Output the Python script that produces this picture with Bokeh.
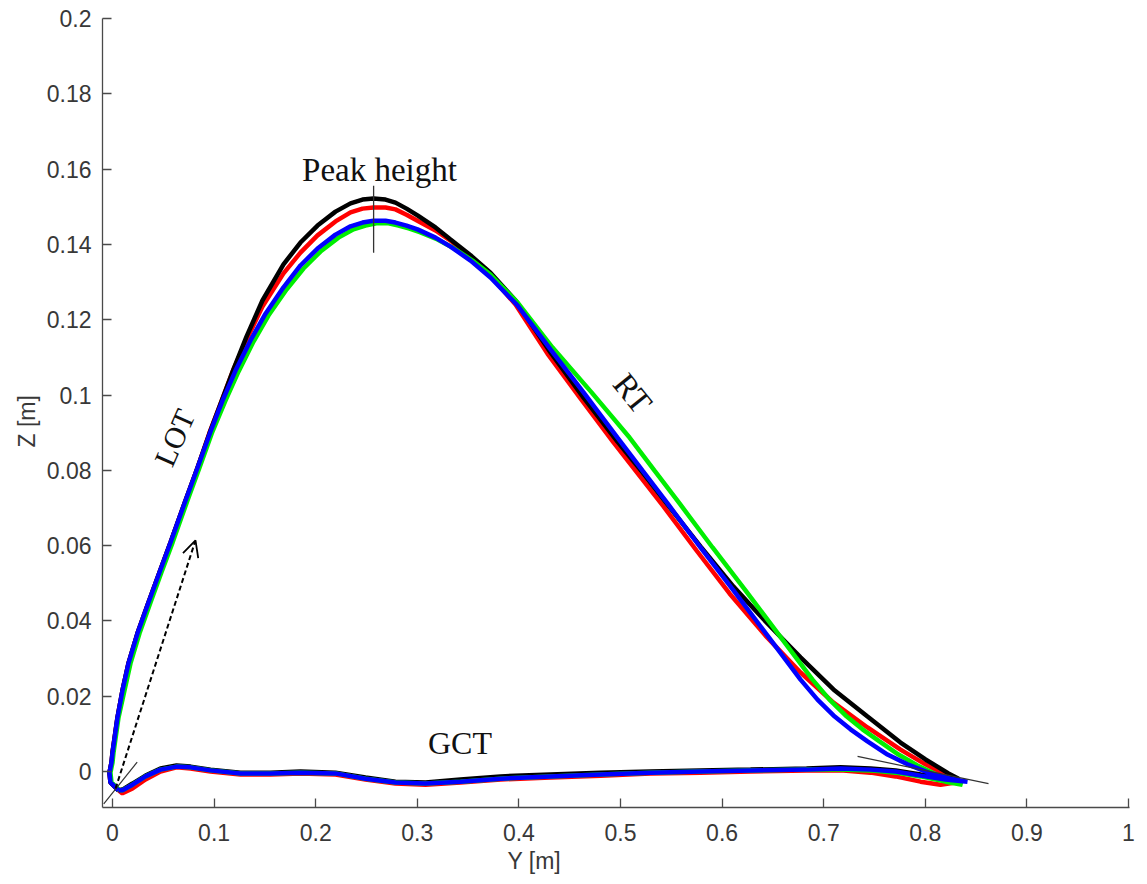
from bokeh.plotting import figure
from bokeh.models import Range1d, FixedTicker, Label, Arrow, OpenHead, Title
from bokeh.embed import file_html
from bokeh.resources import INLINE

# ---------------- data: Y [m] / Z [m] ----------------
# swing phase (LOT -> peak -> RT), then ground contact (GCT) back to start
blue_swing_y = [0.0059, -0.0020, -0.0030, -0.0010, 0.0000, 0.0049, 0.0098, 0.0157, 0.0246, 0.0354,
                0.0463, 0.0571, 0.0719, 0.0837, 0.0965, 0.1083, 0.1211, 0.1358, 0.1506, 0.1683,
                0.1850, 0.2018, 0.2195, 0.2343, 0.2461, 0.2569, 0.2687, 0.2785, 0.2894, 0.3002,
                0.3179, 0.3327, 0.3524, 0.3720, 0.3986, 0.4311, 0.4636, 0.4970, 0.5217, 0.5463,
                0.5787, 0.6112, 0.6447, 0.6772, 0.6939, 0.7096, 0.7264, 0.7431, 0.7628, 0.7825,
                0.8051, 0.8248, 0.8415]
blue_swing_z = [-0.0050, -0.0029, -0.0003, 0.0024, 0.0050, 0.0143, 0.0215, 0.0287, 0.0367, 0.0449,
                0.0529, 0.0608, 0.0720, 0.0807, 0.0903, 0.0985, 0.1065, 0.1145, 0.1216, 0.1286,
                0.1344, 0.1389, 0.1426, 0.1448, 0.1458, 0.1463, 0.1463, 0.1458, 0.1450, 0.1440,
                0.1418, 0.1394, 0.1357, 0.1312, 0.1238, 0.1121, 0.1007, 0.0887, 0.0799, 0.0712,
                0.0595, 0.0481, 0.0361, 0.0244, 0.0191, 0.0149, 0.0112, 0.0080, 0.0045, 0.0019,
                -0.0005, -0.0019, -0.0027]
blue_gct_y = [0.8199, 0.7953, 0.7707, 0.7461, 0.7165, 0.6831, 0.6280, 0.5787, 0.5295, 0.4803,
              0.4311, 0.3819, 0.3425, 0.3081, 0.2785, 0.2490, 0.2195, 0.1850, 0.1555, 0.1260,
              0.0965, 0.0768, 0.0630, 0.0472, 0.0325, 0.0197, 0.0098, 0.0059]
blue_gct_z = [-0.0021, -0.0011, 0.0000, 0.0005, 0.0008, 0.0005, 0.0003, 0.0000, -0.0003, -0.0008,
              -0.0013, -0.0019, -0.0027, -0.0032, -0.0029, -0.0019, -0.0005, -0.0003, -0.0005, -0.0005,
              0.0003, 0.0011, 0.0013, 0.0005, -0.0013, -0.0035, -0.0050, -0.0050]

black_swing_y = [0.0059, -0.0020, -0.0030, -0.0010, 0.0000, 0.0049, 0.0098, 0.0157, 0.0246, 0.0354,
                 0.0463, 0.0571, 0.0719, 0.0837, 0.0955, 0.1073, 0.1191, 0.1319, 0.1476, 0.1683,
                 0.1850, 0.2018, 0.2195, 0.2343, 0.2461, 0.2569, 0.2687, 0.2785, 0.2894, 0.3002,
                 0.3179, 0.3327, 0.3524, 0.3720, 0.3967, 0.4311, 0.4636, 0.4970, 0.5217, 0.5463,
                 0.5787, 0.6112, 0.6447, 0.6772, 0.7096, 0.7431, 0.7756, 0.8002, 0.8228, 0.8327]
black_swing_z = [-0.0050, -0.0029, -0.0003, 0.0024, 0.0050, 0.0143, 0.0215, 0.0287, 0.0367, 0.0449,
                 0.0529, 0.0608, 0.0720, 0.0807, 0.0898, 0.0983, 0.1068, 0.1155, 0.1251, 0.1347,
                 0.1405, 0.1450, 0.1487, 0.1509, 0.1519, 0.1522, 0.1519, 0.1511, 0.1495, 0.1477,
                 0.1445, 0.1413, 0.1371, 0.1325, 0.1251, 0.1113, 0.0993, 0.0876, 0.0794, 0.0709,
                 0.0598, 0.0491, 0.0393, 0.0303, 0.0218, 0.0146, 0.0077, 0.0032, -0.0005, -0.0019]
black_gct_y = [0.8199, 0.7953, 0.7707, 0.7461, 0.7165, 0.6831, 0.6280, 0.5787, 0.5295, 0.4803,
               0.4311, 0.3819, 0.3425, 0.3081, 0.2785, 0.2490, 0.2195, 0.1850, 0.1555, 0.1260,
               0.0965, 0.0768, 0.0630, 0.0472, 0.0325, 0.0197, 0.0098, 0.0059]
black_gct_z = [-0.0016, -0.0008, 0.0003, 0.0008, 0.0011, 0.0008, 0.0005, 0.0003, 0.0000, -0.0003,
               -0.0008, -0.0013, -0.0021, -0.0029, -0.0027, -0.0016, -0.0003, 0.0000, -0.0003, -0.0003,
               0.0005, 0.0013, 0.0016, 0.0008, -0.0011, -0.0032, -0.0048, -0.0050]

red_swing_y = [0.0059, -0.0020, -0.0030, -0.0010, 0.0000, 0.0049, 0.0098, 0.0157, 0.0246, 0.0354,
               0.0463, 0.0571, 0.0719, 0.0837, 0.0955, 0.1073, 0.1191, 0.1319, 0.1476, 0.1683,
               0.1850, 0.2018, 0.2195, 0.2343, 0.2461, 0.2569, 0.2687, 0.2785, 0.2894, 0.3002,
               0.3179, 0.3327, 0.3524, 0.3720, 0.3967, 0.4281, 0.4606, 0.4931, 0.5177, 0.5423,
               0.5748, 0.6073, 0.6427, 0.6772, 0.7096, 0.7431, 0.7756, 0.8002, 0.8219, 0.8297]
red_swing_z = [-0.0050, -0.0029, -0.0003, 0.0024, 0.0050, 0.0143, 0.0215, 0.0287, 0.0367, 0.0449,
               0.0529, 0.0608, 0.0720, 0.0807, 0.0900, 0.0983, 0.1068, 0.1147, 0.1235, 0.1323,
               0.1378, 0.1424, 0.1461, 0.1485, 0.1495, 0.1498, 0.1498, 0.1493, 0.1479, 0.1463,
               0.1437, 0.1410, 0.1365, 0.1317, 0.1240, 0.1110, 0.0991, 0.0874, 0.0789, 0.0704,
               0.0587, 0.0473, 0.0361, 0.0263, 0.0183, 0.0117, 0.0058, 0.0019, -0.0011, -0.0029]
red_gct_y = [0.8150, 0.7953, 0.7707, 0.7461, 0.7165, 0.6831, 0.6280, 0.5787, 0.5295, 0.4803,
             0.4311, 0.3819, 0.3425, 0.3081, 0.2785, 0.2490, 0.2195, 0.1850, 0.1555, 0.1260,
             0.0965, 0.0768, 0.0630, 0.0472, 0.0325, 0.0197, 0.0098, 0.0059]
red_gct_z = [-0.0035, -0.0027, -0.0013, -0.0003, 0.0003, 0.0003, 0.0000, -0.0003, -0.0005, -0.0011,
             -0.0016, -0.0021, -0.0029, -0.0035, -0.0032, -0.0021, -0.0008, -0.0005, -0.0008, -0.0008,
             0.0000, 0.0008, 0.0011, 0.0000, -0.0021, -0.0045, -0.0058, -0.0050]

green_swing_y = [0.0069, -0.0010, -0.0020, 0.0000, 0.0010, 0.0059, 0.0118, 0.0177, 0.0266, 0.0374,
                 0.0482, 0.0591, 0.0738, 0.0856, 0.0984, 0.1112, 0.1240, 0.1388, 0.1535, 0.1713,
                 0.1880, 0.2047, 0.2224, 0.2372, 0.2490, 0.2598, 0.2717, 0.2815, 0.2923, 0.3031,
                 0.3199, 0.3346, 0.3543, 0.3720, 0.3986, 0.4331, 0.4715, 0.5089, 0.5335, 0.5581,
                 0.5906, 0.6230, 0.6565, 0.6890, 0.7057, 0.7215, 0.7382, 0.7549, 0.7736, 0.7923,
                 0.8130, 0.8297, 0.8366]
green_swing_z = [-0.0050, -0.0029, -0.0003, 0.0024, 0.0050, 0.0143, 0.0215, 0.0287, 0.0367, 0.0449,
                 0.0529, 0.0608, 0.0720, 0.0807, 0.0903, 0.0985, 0.1062, 0.1142, 0.1211, 0.1280,
                 0.1336, 0.1381, 0.1418, 0.1440, 0.1450, 0.1456, 0.1456, 0.1450, 0.1442, 0.1432,
                 0.1413, 0.1392, 0.1357, 0.1320, 0.1246, 0.1126, 0.1007, 0.0887, 0.0799, 0.0712,
                 0.0595, 0.0481, 0.0361, 0.0244, 0.0191, 0.0149, 0.0112, 0.0080, 0.0045, 0.0016,
                 -0.0011, -0.0027, -0.0035]
green_gct_y = [0.8199, 0.7953, 0.7707, 0.7461, 0.7165, 0.6831, 0.6280, 0.5787, 0.5295, 0.4803,
               0.4311, 0.3819, 0.3425, 0.3081, 0.2785, 0.2490, 0.2195, 0.1850, 0.1555, 0.1260,
               0.0965, 0.0768, 0.0630, 0.0472, 0.0325, 0.0197, 0.0098, 0.0069]
green_gct_z = [-0.0027, -0.0013, -0.0003, 0.0003, 0.0005, 0.0005, 0.0003, 0.0000, -0.0003, -0.0008,
               -0.0013, -0.0019, -0.0027, -0.0032, -0.0029, -0.0019, -0.0005, -0.0003, -0.0005, -0.0005,
               0.0003, 0.0011, 0.0013, 0.0005, -0.0013, -0.0035, -0.0050, -0.0050]

# annotation geometry (data units)
peak_line_y = [0.257, 0.257]
peak_line_z = [0.1378, 0.1556]
toe_line_y = [-0.0086, 0.0243]
toe_line_z = [-0.0086, 0.0025]
heel_line_y = [0.7333, 0.8622]
heel_line_z = [0.0040, -0.0032]
arrow_start = (0.0030, -0.0045)
arrow_end = (0.0817, 0.0614)

x_ticks = [0, 0.1, 0.2, 0.3, 0.4, 0.5, 0.6, 0.7, 0.8, 0.9, 1]
x_tick_labels = ["0", "0.1", "0.2", "0.3", "0.4", "0.5", "0.6", "0.7", "0.8", "0.9", "1"]
y_ticks = [0, 0.02, 0.04, 0.06, 0.08, 0.1, 0.12, 0.14, 0.16, 0.18, 0.2]
y_tick_labels = ["0", "0.02", "0.04", "0.06", "0.08", "0.1", "0.12", "0.14", "0.16", "0.18", "0.2"]

# ---------------- figure ----------------
p = figure(width=1143, height=882, output_backend="svg", toolbar_location=None,
           x_range=Range1d(-0.00984, 1.00098), y_range=Range1d(-0.00956, 0.2),
           min_border_left=102, min_border_right=14, min_border_top=18, min_border_bottom=75)
p.outline_line_color = None
p.grid.visible = False
p.background_fill_color = "white"
p.border_fill_color = "white"

for ax, ticks, labels in ((p.xaxis[0], x_ticks, x_tick_labels), (p.yaxis[0], y_ticks, y_tick_labels)):
    ax.ticker = FixedTicker(ticks=ticks)
    ax.major_label_overrides = {t: l for t, l in zip(ticks, labels)}
    ax.minor_tick_line_color = None
    ax.major_tick_in = 9
    ax.major_tick_out = 0
    ax.axis_line_color = "#4a4a4a"
    ax.axis_line_width = 1.3
    ax.major_tick_line_color = "#4a4a4a"
    ax.major_tick_line_width = 1.3
    ax.major_label_text_font = "Liberation Sans"
    ax.major_label_text_font_size = "23px"
    ax.major_label_text_color = "#383838"
p.xaxis.major_label_standoff = 16
p.yaxis.major_label_standoff = 11

# axis titles (as side titles so they can sit off-centre like the original)
p.add_layout(Title(text="Y [m]", align="left", offset=405, standoff=6, vertical_align="middle",
                   text_font="Liberation Sans", text_font_size="23px",
                   text_font_style="normal", text_color="#383838"), "below")
p.add_layout(Title(text="Z [m]", align="left", offset=360, standoff=6, vertical_align="middle",
                   text_font="Liberation Sans", text_font_size="23px",
                   text_font_style="normal", text_color="#383838"), "left")

# curves
lw = 4.5
p.line(red_swing_y + red_gct_y, red_swing_z + red_gct_z, line_color="#ff0000", line_width=lw)
p.line(black_swing_y + black_gct_y, black_swing_z + black_gct_z, line_color="#000000", line_width=lw)
p.line(green_swing_y + green_gct_y, green_swing_z + green_gct_z, line_color="#00ee00", line_width=lw)
p.line(blue_swing_y + blue_gct_y, blue_swing_z + blue_gct_z, line_color="#0000ff", line_width=lw)

# annotation lines
p.line(peak_line_y, peak_line_z, line_color="#333333", line_width=1.3)
p.line(toe_line_y, toe_line_z, line_color="#333333", line_width=1.2)
p.line(heel_line_y, heel_line_z, line_color="#333333", line_width=1.2)
p.add_layout(Arrow(end=OpenHead(size=16, line_width=1.8, line_color="black"),
                   x_start=arrow_start[0], y_start=arrow_start[1],
                   x_end=arrow_end[0], y_end=arrow_end[1],
                   line_dash="5 3", line_width=2, line_color="black"))

serif = "Liberation Serif"
p.add_layout(Label(x=0.2628, y=0.1598, text="Peak height", text_font=serif, text_font_size="33px",
                   text_align="center", text_baseline="alphabetic", text_color="#111111"))
p.add_layout(Label(x=0.061, y=0.0887, text="LOT", text_font=serif, text_font_size="30px",
                   angle=66, angle_units="deg", text_align="center", text_baseline="middle",
                   text_color="#111111"))
p.add_layout(Label(x=0.512, y=0.1004, text="RT", text_font=serif, text_font_size="33px",
                   angle=-51, angle_units="deg", text_align="center", text_baseline="middle",
                   text_color="#111111"))
p.add_layout(Label(x=0.342, y=0.0076, text="GCT", text_font=serif, text_font_size="32px",
                   text_align="center", text_baseline="alphabetic", text_color="#111111"))

open("out.html", "w").write(file_html(p, INLINE))
